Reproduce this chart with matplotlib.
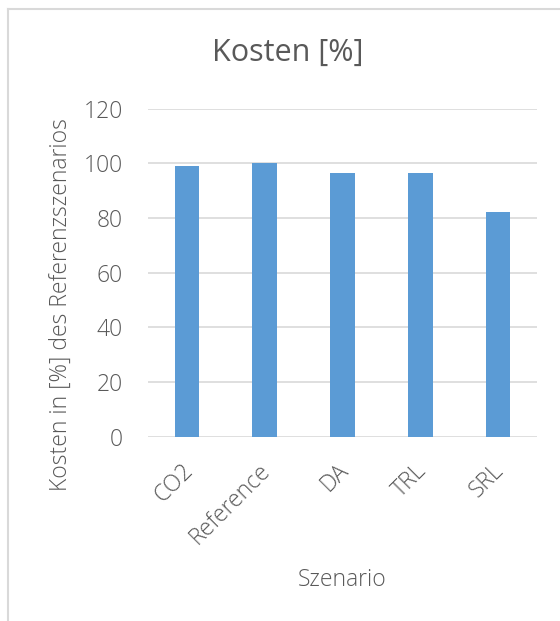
import matplotlib.pyplot as plt
import matplotlib.transforms as mtransforms
from matplotlib.lines import Line2D

scenarios = ['CO2', 'Reference', 'DA', 'TRL', 'SRL']
kosten = [99.0, 100.0, 96.5, 96.5, 82.3]
yticks = [0, 20, 40, 60, 80, 100, 120]

plt.rcParams['font.family'] = ['Open Sans', 'DejaVu Sans']
plt.rcParams['font.weight'] = 'light'
grey = '#595959'

fig = plt.figure(figsize=(5.6, 6.21), dpi=100)
ax = fig.add_axes([148/560, 1 - 436.7/621, (537-148)/560, (436.7-108.6)/621])

ax.bar(range(len(scenarios)), kosten, width=0.317, color='#5b9bd5', zorder=3)
ax.set_xlim(-0.5, len(scenarios) - 0.5)
ax.set_ylim(0, 120)
ax.set_yticks(yticks)
ax.grid(axis='y', color='#d9d9d9', linewidth=1.2, zorder=0)
for s in ax.spines.values():
    s.set_visible(False)
ax.tick_params(length=0, labelsize=16.5, colors=grey)
ax.tick_params(axis='y', pad=18)
ax.set_xticks(range(len(scenarios)))
ax.set_xticklabels(scenarios, rotation=45, ha='right', rotation_mode='anchor')
ax.tick_params(axis='x', pad=16)
shift = mtransforms.ScaledTranslation(-6/100, 0, fig.dpi_scale_trans)
for lbl in ax.get_xticklabels():
    lbl.set_transform(lbl.get_transform() + shift)

fig.text(288/560, 1 - 53/621, 'Kosten [%]', ha='center', va='center', fontsize=22, color=grey,
         fontweight='normal')
fig.text(61/560, 1 - 305/621, 'Kosten in [%] des Referenzszenarios', rotation=90,
         ha='center', va='center', fontsize=16.5, color=grey)
fig.text(342/560, 1 - 580/621, 'Szenario', ha='center', va='center', fontsize=16.5, color=grey)

# chart area border (top and left edges visible)
fig.add_artist(Line2D([8/560, 8/560], [0, 1 - 9/621], transform=fig.transFigure, color='#d9d9d9', lw=1.5))
fig.add_artist(Line2D([8/560, 1], [1 - 9/621, 1 - 9/621], transform=fig.transFigure, color='#d9d9d9', lw=1.5))

fig.savefig('out.png', dpi=100)
